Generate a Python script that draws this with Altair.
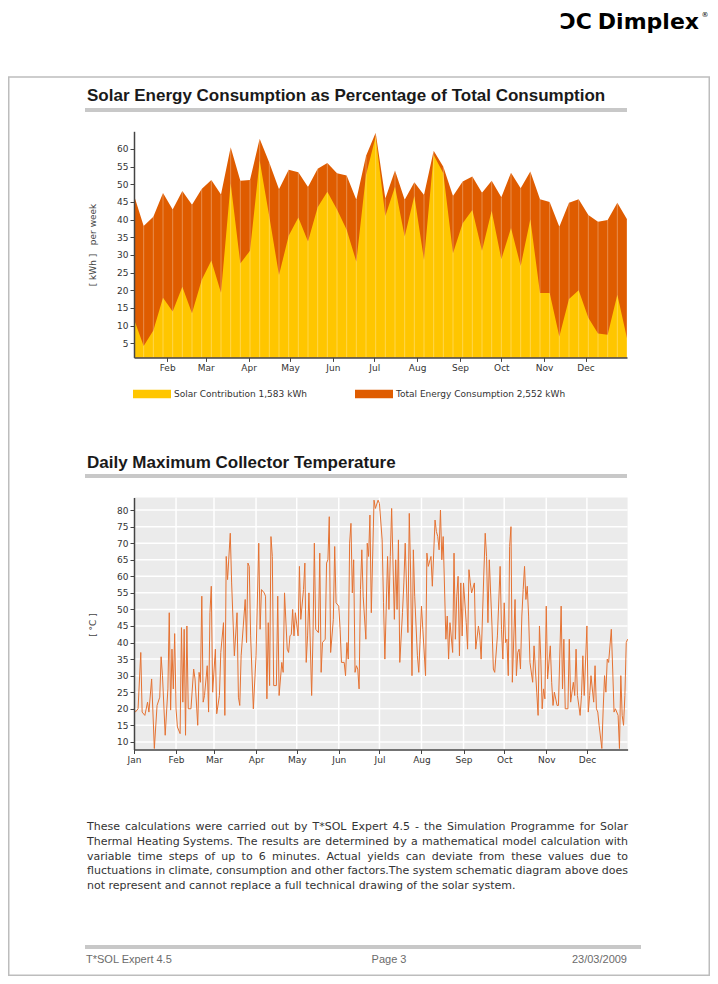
import altair as alt
import pandas as pd

# ---------------- data ----------------
TITLE_1 = "Solar Energy Consumption as Percentage of Total Consumption"
TITLE_2 = "Daily Maximum Collector Temperature"
KWH_AXIS_TITLE = "[ kWh ]\u00a0\u00a0\u00a0per week"
TEMP_AXIS_TITLE = "[ °C ]"

WEEK_FIRST_END = "2009-01-08"   # first weekly value (end of week 1)
N_WEEKS = 52
total_kwh = [46.9, 38.2, 40.8, 47.5, 42.9, 48.1, 44.2, 48.7, 51.2, 47.1,
             60.5, 51.0, 51.2, 62.9, 56.1, 48.6, 54.1, 53.4, 49.2, 54.4,
             56.0, 53.1, 52.5, 45.6, 58.0, 64.6, 46.0, 53.9, 45.6, 50.6,
             47.0, 59.5, 55.0, 46.7, 50.8, 52.2, 47.6, 51.0, 46.3, 53.3,
             48.9, 53.6, 45.8, 45.0, 38.0, 44.8, 45.8, 41.3, 39.4, 39.9,
             44.8, 40.1]
solar_kwh = [11.8, 4.2, 8.6, 17.9, 14.0, 21.0, 13.5, 22.9, 28.4, 19.3,
             50.3, 27.6, 31.2, 56.7, 40.8, 24.3, 35.4, 40.6, 33.8, 43.5,
             47.9, 42.9, 37.1, 28.1, 52.6, 63.5, 41.0, 49.3, 35.2, 46.7,
             28.6, 58.3, 53.1, 30.5, 39.0, 42.7, 31.2, 42.5, 28.8, 37.6,
             26.9, 40.1, 19.2, 19.2, 6.9, 17.5, 20.0, 12.2, 7.8, 7.4,
             18.7, 6.4]
SERIES = ["Solar Contribution 1,583 kWh", "Total Energy Consumption 2,552 kWh"]
SERIES_COLORS = ["#FFC600", "#DF5C00"]
kwh_ticks = [5, 10, 15, 20, 25, 30, 35, 40, 45, 50, 55, 60]

# daily maximum collector temperature: (day of year from 1 Jan, degC)
temp_jan_apr = [(0, 20), (1, 19), (3, 20), (5, 37), (6, 19), (8, 18), (10, 22), (11, 19), (13, 29),
                (15, 8), (17, 21), (19, 23.5), (20, 35.7), (21, 30), (23, 12), (25, 26), (26, 49),
                (27, 19.6), (28, 38), (29, 26), (30, 42.7), (31, 20), (32, 14.5), (34, 12.5),
                (35, 44.5), (36, 22), (37, 44), (38, 12), (39, 45), (40, 20), (42, 20), (44, 32),
                (45, 29), (47, 15), (48, 31), (49, 28), (50, 54), (51, 22), (52, 24), (54, 33),
                (55, 19), (56, 49), (57, 57), (58, 25), (60, 38), (61, 18.5), (63, 24), (64, 37),
                (66, 46), (67, 18), (68, 66), (69, 59), (71, 73), (72, 58), (74, 36), (76, 49),
                (77, 23.5), (78, 21), (79, 36), (82, 53), (83, 40), (84, 64), (85, 63), (86, 42),
                (88, 20), (90, 36), (92, 70), (93, 44), (94, 56), (96, 55), (97, 54), (98, 23),
                (99, 46), (100, 27), (101, 72), (102, 66), (103, 27), (105, 27), (106, 54),
                (107, 24), (109, 34), (110, 31), (111, 55), (113, 38), (114, 37), (115, 42),
                (116, 42.5), (117, 50), (118, 42), (119, 49), (121, 42)]
temp_may_aug = [(122, 63), (123, 47), (125, 56), (126, 64), (127, 34), (128, 42), (129, 55),
                (131, 24), (132, 42), (133, 70), (134, 44), (136, 43), (137, 67), (138, 31),
                (139, 40), (141, 41), (142, 64), (143, 65), (144, 78), (145, 37), (147, 47),
                (148, 69), (149, 52), (151, 51), (152, 44), (153, 34), (155, 34), (156, 30),
                (157, 40), (158, 35), (159, 70), (160, 76), (161, 55), (162, 65), (163, 31),
                (164, 33), (165, 32), (166, 26), (167, 56), (168, 68), (169, 54), (171, 41),
                (172, 70), (173, 66), (174, 78.5), (175, 49), (177, 83), (178, 80.5), (180, 83),
                (181, 82), (183, 71), (184, 52), (185, 35), (187, 66), (188, 50), (189, 66),
                (190, 80.5), (192, 47), (193, 65), (194, 50), (195, 71), (196, 34), (198, 49),
                (199, 58), (200, 70), (202, 43), (203, 79), (204, 61), (205, 30), (206, 68),
                (207, 54), (209, 36), (210, 31), (211, 41), (212, 51), (213, 44), (215, 30),
                (216, 67), (217, 63), (219, 66), (220, 57), (222, 77), (223, 73.5), (224, 72),
                (225, 68), (226, 80), (227, 65), (228, 72), (230, 41), (231, 48), (232, 35),
                (233, 46), (235, 37), (236, 67), (237, 41), (238, 54), (239, 60), (240, 36),
                (241, 58), (242, 42)]
temp_sep_dec = [(243, 58), (245, 46), (246, 38), (247, 62), (248, 58), (249, 55), (251, 58),
                (252, 38), (254, 45), (255, 42), (256, 35), (258, 61), (259, 73), (260, 66),
                (261, 46), (262, 65), (264, 45), (265, 32), (266, 31), (268, 42), (270, 63),
                (271, 44), (272, 35), (273, 52), (274, 40), (275, 41), (276, 30), (277, 69),
                (278, 75), (279, 28), (281, 53), (282, 30), (283, 37), (284, 38), (285, 32),
                (286, 48), (287, 56), (288, 63), (289, 53), (290, 57), (291, 48), (292, 34),
                (294, 28), (295, 39), (297, 25), (298, 18), (299, 45), (300, 35), (301, 20),
                (302, 26), (303, 23), (304, 51), (305, 29), (307, 39), (308, 28), (309, 21),
                (310, 25), (312, 21), (313, 21), (315, 51), (316, 26), (317, 41), (318, 20),
                (320, 20), (321, 41), (322, 22), (324, 28), (325, 24), (326, 38), (327, 24),
                (329, 18), (330, 24), (331, 36), (332, 24), (334, 45), (335, 19), (336, 24),
                (337, 30), (339, 22), (340, 33), (341, 20), (342, 19), (343, 15), (345, 8),
                (346, 20), (347, 30), (348, 25), (349, 35), (350, 34), (352, 44), (353, 32),
                (354, 19), (355, 20), (357, 18), (358, 8), (359, 30), (360, 18), (361, 15),
                (362, 24), (363, 40), (364, 41)]
temp_ticks = [10, 15, 20, 25, 30, 35, 40, 45, 50, 55, 60, 65, 70, 75, 80]

PARAGRAPH = [
    "These calculations were carried out by T*SOL Expert 4.5 - the Simulation Programme for Solar",
    "Thermal Heating Systems. The results are determined by a mathematical model calculation with",
    "variable time steps of up to 6 minutes. Actual yields can deviate from these values due to",
    "fluctuations in climate, consumption and other factors.The system schematic diagram above does",
    "not represent and cannot replace a full technical drawing of the solar system.",
]
FOOTER_LEFT, FOOTER_MID, FOOTER_RIGHT = "T*SOL Expert 4.5", "Page 3", "23/03/2009"

# ---------------- layout (page pixels) ----------------
W, H = 702, 968
MARGIN = 8


def px(v):
    return v - MARGIN


def py(v):
    return v - MARGIN


C1_L, C1_R, C1_T, C1_B = 134, 627, 131.3, 357.4
C2_L, C2_R, C2_T, C2_B = 134, 627.6, 497.5, 749.5
PARA_L, PARA_R, PARA_Y0, PARA_DY, PARA_SIZE = 87, 628, 827, 14.75, 11

dummy = pd.DataFrame({"k": [0]})


def txt(x, y, s, size, color, font="DejaVu Sans", weight="normal", align="left",
        baseline="middle", angle=0):
    return alt.Chart(dummy).mark_text(
        text=s, font=font, fontSize=size, fontWeight=weight, color=color,
        align=align, baseline=baseline, angle=angle
    ).encode(x=alt.value(px(x)), y=alt.value(py(y)))


def box(x1, y1, x2, y2, **kw):
    return alt.Chart(dummy).mark_rect(**kw).encode(
        x=alt.value(px(x1)), x2=alt.value(px(x2)),
        y=alt.value(py(y1)), y2=alt.value(py(y2)))


AX = dict(labelFont="DejaVu Sans", labelFontSize=9, labelColor="#333333",
          domainColor="#444444", domainWidth=1.5, tickColor="#444444", tickSize=4,
          tickWidth=1, labelPadding=2, grid=False, zindex=1, labelFlush=False,
          labelOverlap=False, title=None)


def dt(m, d):
    return alt.DateTime(year=2009, month=m, date=d)


# ---------------- chart 1: weekly energy ----------------
week_dates = pd.date_range(WEEK_FIRST_END, periods=N_WEEKS, freq="7D").strftime("%Y-%m-%dT00:00:00")
wk = pd.DataFrame({"week_end": list(week_dates), "total": total_kwh, "solar": solar_kwh})

x_c1 = alt.X("week_end:T", title=None,
             scale=alt.Scale(domain=[dt(1, 8), dt(12, 31)], range=[px(C1_L), px(C1_R)]),
             axis=alt.Axis(orient="bottom", offset=py(C1_B) - H,
                           values=[dt(m, 1) for m in range(2, 13)], format="%b", **AX))


def y_c1(field):
    return alt.Y(f"{field}:Q", title=None,
                 scale=alt.Scale(domain=[1, 65], range=[py(C1_B), py(C1_T)], zero=False, nice=False),
                 axis=alt.Axis(orient="left", offset=-px(C1_L), values=kwh_ticks, **AX))


color_c1 = alt.Color(
    "series:N",
    scale=alt.Scale(domain=SERIES, range=SERIES_COLORS),
    legend=alt.Legend(orient="none", legendX=px(133), legendY=py(375), direction="horizontal",
                      title=None, symbolType="M-1,-0.22H1V0.22H-1Z", symbolSize=1444,
                      symbolStrokeWidth=0, symbolOpacity=1, labelFont="DejaVu Sans",
                      labelFontSize=9, labelColor="#333333", labelOffset=3, columnPadding=48,
                      padding=0, labelLimit=400))

total_area = alt.Chart(wk).transform_calculate(series=f"'{SERIES[1]}'").mark_area(
    opacity=1, interpolate="linear").encode(x=x_c1, y=y_c1("total"), y2=alt.datum(1), color=color_c1)
solar_area = alt.Chart(wk).transform_calculate(series=f"'{SERIES[0]}'").mark_area(
    opacity=1, interpolate="linear").encode(x=x_c1, y=y_c1("solar"), y2=alt.datum(1), color=color_c1)
week_lines = alt.Chart(wk).mark_rule(color="white", strokeOpacity=0.3, strokeWidth=1).encode(
    x=x_c1, y=y_c1("total"), y2=alt.datum(1))
chart1 = alt.layer(total_area, solar_area, week_lines)

# ---------------- chart 2: daily collector temperature ----------------
readings = temp_jan_apr + temp_may_aug + temp_sep_dec
tmp = pd.DataFrame({
    "date": [(pd.Timestamp("2009-01-01") + pd.Timedelta(days=d)).strftime("%Y-%m-%dT00:00:00")
             for d, _ in readings],
    "temp": [v for _, v in readings],
})


def x_c2(field):
    return alt.X(f"{field}:T", title=None,
                 scale=alt.Scale(domain=[dt(1, 1), dt(12, 31)], range=[px(C2_L), px(C2_R)]),
                 axis=alt.Axis(orient="bottom", offset=py(C2_B) - H,
                               values=[dt(m, 1) for m in range(1, 13)], format="%b", **AX))


def y_c2(field):
    return alt.Y(f"{field}:Q", title=None,
                 scale=alt.Scale(domain=[7.7, 83.8], range=[py(C2_B), py(C2_T)], zero=False, nice=False),
                 axis=alt.Axis(orient="left", offset=-px(C2_L), values=temp_ticks, **AX))


month_starts = pd.DataFrame({"month_start": [f"2009-{m:02d}-01T00:00:00" for m in range(2, 13)]})
hgrid = alt.Chart(pd.DataFrame({"level": temp_ticks})).mark_rule(color="white", strokeWidth=1.5).encode(
    y=y_c2("level"), x=alt.value(px(C2_L)), x2=alt.value(px(C2_R)))
vgrid = alt.Chart(month_starts).mark_rule(color="white", strokeWidth=1.5).encode(
    x=x_c2("month_start"), y=alt.value(py(C2_T)), y2=alt.value(py(C2_B)))
temp_line = alt.Chart(tmp).mark_line(color="#E57232", strokeWidth=1).encode(
    x=x_c2("date"), y=y_c2("temp"))
chart2 = alt.layer(hgrid, vgrid, temp_line)

# ---------------- justified paragraph (word placement from DejaVu Sans advances) ----------------
_ADV = {" ": 651, "*": 1024, ",": 651, "-": 739, ".": 651, "A": 1401, "E": 1294, "L": 1141,
        "O": 1612, "P": 1235, "S": 1300, "T": 1251, "a": 1255, "b": 1300, "c": 1126, "d": 1300,
        "e": 1260, "f": 721, "g": 1300, "h": 1298, "i": 569, "j": 569, "k": 1186, "l": 569,
        "m": 1995, "n": 1298, "o": 1253, "p": 1300, "q": 1300, "r": 842, "s": 1067, "t": 803,
        "u": 1298, "v": 1212, "w": 1675, "x": 1212, "y": 1212, "z": 1075}


def text_width(s, size):
    return sum(_ADV.get(c, 1303) for c in s) / 2048.0 * size


word_rows = []
for i, line in enumerate(PARAGRAPH):
    y = PARA_Y0 + PARA_DY * i
    if i == len(PARAGRAPH) - 1:
        word_rows.append({"wx": px(PARA_L), "wy": py(y), "word": line})
        continue
    words = line.split(" ")
    widths = [text_width(w, PARA_SIZE) for w in words]
    gap = (PARA_R - PARA_L - sum(widths)) / (len(words) - 1)
    x = PARA_L
    for w, ww in zip(words, widths):
        word_rows.append({"wx": px(x), "wy": py(y), "word": w})
        x += ww + gap
paragraph = alt.Chart(pd.DataFrame(word_rows)).mark_text(
    font="DejaVu Sans", fontSize=PARA_SIZE, color="#333333", align="left", baseline="middle"
).encode(x=alt.X("wx:Q", scale=None), y=alt.Y("wy:Q", scale=None), text="word:N")

# ---------------- page decoration ----------------
deco_before = [
    box(8.75, 77, 709.25, 975.25, fill="white", fillOpacity=0, stroke="#BDBDBD", strokeWidth=1.5),
    txt(592, 29, "ƆC", 22, "#000000", weight="bold", baseline="alphabetic", align="right"),
    txt(699, 29, "Dimplex", 22, "#000000", weight="bold", baseline="alphabetic", align="right"),
    txt(708.5, 15, "®", 7, "#000000", align="right"),
    txt(87, 101, TITLE_1, 17, "#1a1a1a", font="Liberation Sans", weight="bold", baseline="alphabetic"),
    box(85, 108, 627, 112, fill="#C8C8C8"),
    txt(93, 245, KWH_AXIS_TITLE, 9, "#444444", align="center", angle=270),
    txt(87, 468, TITLE_2, 17, "#1a1a1a", font="Liberation Sans", weight="bold", baseline="alphabetic"),
    box(85, 474, 627, 478, fill="#C8C8C8"),
    txt(93, 625, TEMP_AXIS_TITLE, 9, "#444444", align="center", angle=270),
    box(C2_L, C2_T, C2_R, C2_B, fill="#EBEBEB"),
]
deco_after = [
    paragraph,
    box(85, 945, 641, 949, fill="#C8C8C8"),
    txt(86, 960, FOOTER_LEFT, 11, "#6b6b6b", font="Liberation Sans"),
    txt(389, 960, FOOTER_MID, 11, "#6b6b6b", font="Liberation Sans", align="center"),
    txt(627, 960, FOOTER_RIGHT, 11, "#6b6b6b", font="Liberation Sans", align="right"),
]

chart = alt.layer(*deco_before, chart1, chart2, *deco_after).resolve_scale(
    x="independent", y="independent", color="independent"
).properties(
    width=W, height=H, padding=0, autosize=alt.AutoSizeParams(type="none")
).configure_view(strokeWidth=0)

chart.save("out.html", embed_options={"renderer": "svg", "actions": False})
